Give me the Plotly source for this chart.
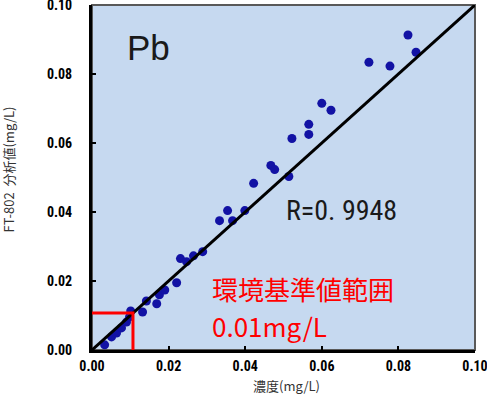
import plotly.graph_objects as go

# Data
conc = [0.0033, 0.0051, 0.0064, 0.0077, 0.0090, 0.0098, 0.0101, 0.0132, 0.0142,
        0.0169, 0.0176, 0.0190, 0.0221, 0.0231, 0.0247, 0.0265, 0.0289, 0.0333,
        0.0354, 0.0367, 0.0399, 0.0422, 0.0467, 0.0477, 0.0514, 0.0522, 0.0566,
        0.0566, 0.0600, 0.0624, 0.0723, 0.0778, 0.0825, 0.0846]
measured = [0.0015, 0.0038, 0.0049, 0.0064, 0.0081, 0.0096, 0.0113, 0.0110, 0.0142,
            0.0134, 0.0160, 0.0174, 0.0195, 0.0265, 0.0256, 0.0273, 0.0285, 0.0375,
            0.0404, 0.0375, 0.0404, 0.0483, 0.0535, 0.0523, 0.0503, 0.0613, 0.0654,
            0.0625, 0.0715, 0.0695, 0.0834, 0.0823, 0.0913, 0.0863]
trend_x = [0.0, 0.1]
trend_y = [0.0, 0.1]
env_limit = 0.0107
tick_vals = [0.00, 0.02, 0.04, 0.06, 0.08, 0.10]
tick_text = ["0.00", "0.02", "0.04", "0.06", "0.08", "0.10"]

NARROW = "Liberation Sans Narrow, Roboto Condensed, DejaVu Sans Condensed, sans-serif"
CJK = "Noto Sans CJK JP, sans-serif"

fig = go.Figure()
fig.add_trace(go.Scatter(x=conc, y=measured, mode="markers",
                         marker=dict(size=9, color="#1212A4", line=dict(width=0)),
                         showlegend=False))
fig.add_trace(go.Scatter(x=trend_x, y=trend_y, mode="lines",
                         line=dict(color="black", width=3), showlegend=False))
fig.add_trace(go.Scatter(x=[0, env_limit, env_limit], y=[env_limit, env_limit, 0],
                         mode="lines", line=dict(color="#FF0000", width=3),
                         showlegend=False, cliponaxis=False))

axis_common = dict(range=[0, 0.1], tickvals=tick_vals, ticktext=tick_text,
                   showgrid=False, zeroline=False, showline=True, linecolor="black",
                   linewidth=3, ticks="inside", ticklen=4, tickwidth=2, tickcolor="black",
                   automargin=False, ticklabeloverflow="allow",
                   tickfont=dict(family=NARROW, size=14, color="black", weight="bold"))

fig.update_xaxes(**axis_common, ticklabelstandoff=1)
fig.update_yaxes(**axis_common, ticklabelstandoff=14)

fig.add_shape(type="rect", xref="paper", yref="paper", x0=0, y0=0, x1=1, y1=1,
              line=dict(color="#595959", width=2), layer="below")

fig.add_annotation(text="Pb", x=0.0147, y=0.0878, xref="x", yref="y",
                   showarrow=False, font=dict(family="Liberation Sans, Arial, sans-serif",
                                             size=35, color="#1a1a1a"))
fig.add_annotation(text="R=0. 9948", x=0.0652, y=0.0405, xref="x", yref="y",
                   showarrow=False, font=dict(family=NARROW, size=28, color="#1a1a1a"))
fig.add_annotation(text="環境基準値範囲", x=0.0309, y=0.0178, xref="x", yref="y",
                   xanchor="left", showarrow=False,
                   font=dict(family=CJK, size=26, color="#FF0000"))
fig.add_annotation(text="0.01mg/L", x=0.0309, y=0.0072, xref="x", yref="y",
                   xanchor="left", showarrow=False,
                   font=dict(family=CJK, size=26, color="#FF0000"))
fig.add_annotation(text="濃度(mg/L)", x=0.0508, y=-0.104, xref="x", yref="paper",
                   xanchor="center", yanchor="middle", showarrow=False,
                   font=dict(family=CJK, size=13, color="#333333"))
fig.add_annotation(text="FT-802  分析値(mg/L)", x=-0.218, y=0.522, xref="paper", yref="paper",
                   xanchor="center", yanchor="middle", textangle=-90, showarrow=False,
                   font=dict(family=CJK, size=13, color="#333333"))

fig.update_layout(width=487, height=394, margin=dict(l=92, r=12, t=5, b=44),
                  paper_bgcolor="white", plot_bgcolor="#C6D9F0")

fig.write_html("out.html", config={"displayModeBar": False},
               post_script="document.body.style.margin='0';document.body.style.overflow='hidden';")
